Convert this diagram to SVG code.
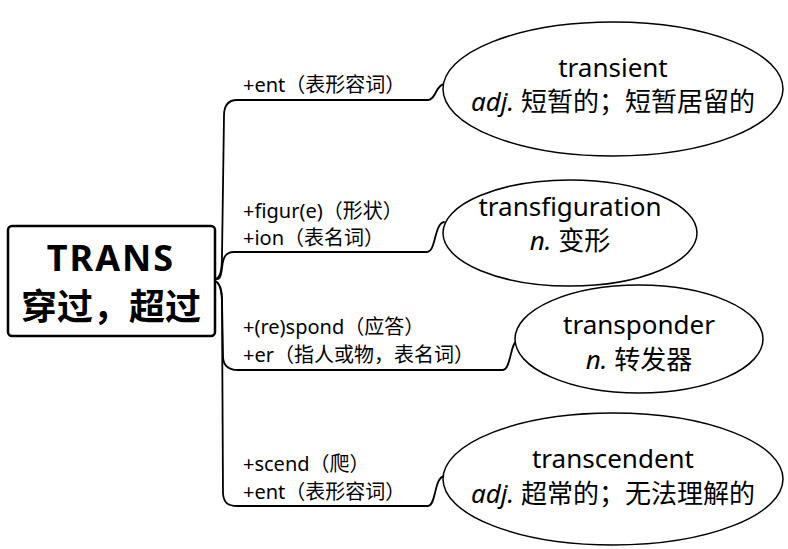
<svg xmlns="http://www.w3.org/2000/svg" width="788" height="549" viewBox="0 0 788 549">
<style>
.conn{fill:none;stroke:#000;stroke-width:1.8;stroke-linecap:round;stroke-linejoin:round}
.ell{fill:#fff;stroke:#000;stroke-width:1.5}
.box{fill:#fff;stroke:#000;stroke-width:2.5}
.lab{font-family:"Noto Sans","Noto Sans CJK SC",sans-serif;font-size:20px;fill:#000}
.wd{font-family:"Noto Sans","Noto Sans CJK SC",sans-serif;font-size:26px;fill:#000;text-anchor:middle}
.ctr{font-family:"Noto Sans","Noto Sans CJK SC",sans-serif;font-size:36px;font-weight:bold;fill:#000;text-anchor:middle}
</style>
<rect width="788" height="549" fill="#fff"/>
<g id="connectors">
<path class="conn" d="M215 279 C220 278 222 272 222 255 L224 116 C224 105 228 100 237 100 L428 100 C436 100 435 86 444 84"/>
<path class="conn" d="M215 279 C219 280 221 278 222 268 C223 258 225 252 234 252 L427 252 C436 252 434 224 444 222"/>
<path class="conn" d="M215 281 C220 283 222 290 222 300 L223 356 C223 366 228 370 238 370 L503 370 C511 370 510 342 518 340"/>
<path class="conn" d="M215 281 C220 283 222 292 222 305 L223 494 C224 503 228 506 237 506 L428 506 C436 506 434 478 444 476"/>
</g>
<g id="center">
<rect class="box" x="8" y="226" width="207" height="110" rx="4"/>
<text class="ctr" x="111" y="271" font-size="37" letter-spacing="2">TRANS</text>
<text class="ctr" x="111" y="320">穿过，超过</text>
</g>
<g id="lab1">
<text class="lab" x="243" y="92">+ent（表形容词）</text>
</g>
<g id="lab2">
<text class="lab" x="243" y="218">+figur(e)（形状）</text>
<text class="lab" x="243" y="245">+ion（表名词）</text>
</g>
<g id="lab3">
<text class="lab" x="243" y="334">+(re)spond（应答）</text>
<text class="lab" x="243" y="362">+er（指人或物，表名词）</text>
</g>
<g id="lab4">
<text class="lab" x="243" y="471">+scend（爬）</text>
<text class="lab" x="243" y="499">+ent（表形容词）</text>
</g>
<g id="transient">
<ellipse class="ell" cx="613" cy="89" rx="170" ry="67"/>
<text class="wd" x="613" y="77">transient</text>
<text class="wd" x="613" y="111"><tspan font-style="italic">adj.</tspan> 短暂的；短暂居留的</text>
</g>
<g id="transfiguration">
<ellipse class="ell" cx="570" cy="233" rx="127" ry="53"/>
<text class="wd" x="570" y="216">transfiguration</text>
<text class="wd" x="570" y="250"><tspan font-style="italic">n.</tspan> 变形</text>
</g>
<g id="transponder">
<ellipse class="ell" cx="639" cy="339" rx="124" ry="54"/>
<text class="wd" x="639" y="334">transponder</text>
<text class="wd" x="639" y="369"><tspan font-style="italic">n.</tspan> 转发器</text>
</g>
<g id="transcendent">
<ellipse class="ell" cx="613" cy="479" rx="170" ry="66"/>
<text class="wd" x="613" y="468">transcendent</text>
<text class="wd" x="613" y="503"><tspan font-style="italic">adj.</tspan> 超常的；无法理解的</text>
</g>
</svg>
